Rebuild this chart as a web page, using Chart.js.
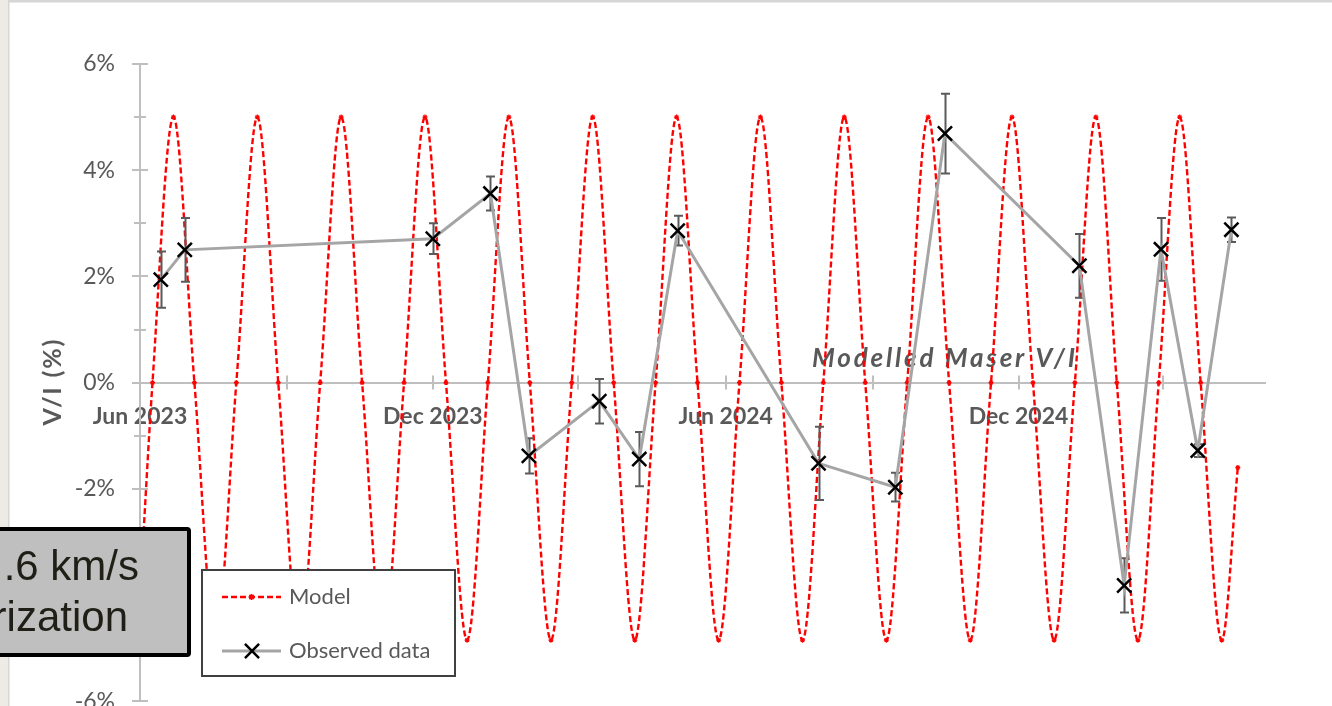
<!DOCTYPE html>
<html>
<head>
<meta charset="utf-8">
<title>Modelled Maser V/I</title>
<script src="https://cdn.jsdelivr.net/npm/chart.js@4.4.1/dist/chart.umd.min.js"></script>
<style>
    html, body { margin: 0; padding: 0; background: #ffffff; overflow: hidden; }
    #wrap { position: relative; width: 1332px; height: 740px; }
</style>
</head>
<body>
<div id="wrap"><canvas id="chart" width="1332" height="740"></canvas></div>
<script>
// x values are days since 1 Jun 2023
const xTickDays = [0, 92, 183, 274, 366, 458, 549, 639];
const xTickLabels = ['Jun 2023', '', 'Dec 2023', '', 'Jun 2024', '', 'Dec 2024', ''];

// model curve, read at its zero crossings, peaks and troughs
const modelDays = [
    0,
    7.8, 20.9, 34.0, 47.2,
    60.2, 73.3, 86.4, 99.6,
    112.6, 125.7, 138.8, 152.0,
    165.0, 178.1, 191.2, 204.4,
    217.4, 230.5, 243.6, 256.8,
    269.8, 282.9, 296.0, 309.2,
    322.2, 335.3, 348.4, 361.6,
    374.6, 387.7, 400.8, 414.0,
    427.0, 440.1, 453.2, 466.4,
    479.4, 492.5, 505.6, 518.8,
    531.8, 544.9, 558.0, 571.2,
    584.2, 597.3, 610.4, 623.6,
    636.6, 649.7, 662.8, 676.0,
    686
];
const modelValues = [
    -4.0,
    0, 5.0, 0, -4.85,
    0, 5.0, 0, -4.85,
    0, 5.0, 0, -4.85,
    0, 5.0, 0, -4.85,
    0, 5.0, 0, -4.85,
    0, 5.0, 0, -4.85,
    0, 5.0, 0, -4.85,
    0, 5.0, 0, -4.85,
    0, 5.0, 0, -4.85,
    0, 5.0, 0, -4.85,
    0, 5.0, 0, -4.85,
    0, 5.0, 0, -4.85,
    0, 5.0, 0, -4.85,
    -1.6
];

// observed V/I with errors
const obsDays = [13, 28, 183, 219, 243, 287, 312, 336, 424, 472, 503, 587, 615, 638, 661, 682];
const obsValues = [1.94, 2.50, 2.71, 3.56, -1.38, -0.35, -1.44, 2.86, -1.52, -1.97, 4.69, 2.20, -3.82, 2.51, -1.28, 2.88];
const obsErrors = [0.53, 0.60, 0.29, 0.32, 0.33, 0.42, 0.51, 0.28, 0.69, 0.27, 0.75, 0.60, 0.51, 0.59, 0.12, 0.23];

const textGray = '#595959';
const axisGray = '#bfbfbf';

Chart.defaults.font.family = 'Lato, "Open Sans", sans-serif';
Chart.defaults.color = textGray;

function fitText(ctx, text, targetWidth) {
    ctx.letterSpacing = '0px';
    const w = ctx.measureText(text).width;
    const sp = Math.max(0, (targetWidth - w) / (text.length - 1));
    ctx.letterSpacing = sp + 'px';
}

const decorPlugin = {
    id: 'decor',
    beforeDraw(chart) {
        const ctx = chart.ctx;
        ctx.save();
        ctx.fillStyle = '#ffffff';
        ctx.fillRect(0, 0, chart.width, chart.height);
        // frame of the slide
        ctx.fillStyle = '#eeebe5';
        ctx.fillRect(0, 0, 8, chart.height);
        ctx.fillStyle = '#d6d6d6';
        ctx.fillRect(8, 0, 1.5, chart.height);
        ctx.fillRect(8, 0, chart.width, 2.5);
        ctx.restore();
    },
    beforeDatasetsDraw(chart) {
        const ctx = chart.ctx;
        const xs = chart.scales.x, ys = chart.scales.y;
        const axX = ys.right, axY = ys.getPixelForValue(0);
        ctx.save();
        ctx.strokeStyle = axisGray;
        ctx.lineWidth = 2;
        ys.ticks.forEach(t => {
            const y = Math.round(ys.getPixelForValue(t.value));
            const half = t.value % 2 === 0 ? 8 : 6;
            ctx.beginPath();
            ctx.moveTo(axX - half, y);
            ctx.lineTo(axX + half, y);
            ctx.stroke();
        });
        xs.ticks.forEach(t => {
            const x = Math.round(xs.getPixelForValue(t.value));
            ctx.beginPath();
            ctx.moveTo(x, axY - 7);
            ctx.lineTo(x, axY + 7);
            ctx.stroke();
        });

        // chart title
        ctx.fillStyle = textGray;
        ctx.font = 'italic bold 26px Lato';
        ctx.textBaseline = 'alphabetic';
        ctx.textAlign = 'left';
        fitText(ctx, 'Modelled Maser V/I', 263);
        ctx.fillText('Modelled Maser V/I', 812, 367);

        // y axis title
        ctx.translate(61, ys.getPixelForValue(0));
        ctx.rotate(-Math.PI / 2);
        ctx.font = 'bold 25px Lato';
        ctx.textAlign = 'left';
        fitText(ctx, 'V/I (%)', 86);
        ctx.fillText('V/I (%)', -43, 0);
        ctx.restore();
    },
    afterDatasetDraw(chart, args) {
        if (chart.data.datasets[args.index].label !== 'Model') return;
        const ctx = chart.ctx;
        const xs = chart.scales.x, ys = chart.scales.y;
        ctx.save();
        ctx.strokeStyle = '#5a5a5a';
        ctx.lineWidth = 2;
        obsDays.forEach((d, i) => {
            const x = Math.round(xs.getPixelForValue(d)) + 0.5;
            const yt = ys.getPixelForValue(obsValues[i] + obsErrors[i]);
            const yb = ys.getPixelForValue(obsValues[i] - obsErrors[i]);
            ctx.beginPath();
            ctx.moveTo(x, yt); ctx.lineTo(x, yb);
            ctx.moveTo(x - 4.5, yt); ctx.lineTo(x + 4.5, yt);
            ctx.moveTo(x - 4.5, yb); ctx.lineTo(x + 4.5, yb);
            ctx.stroke();
        });
        ctx.restore();
    },
    afterDraw(chart) {
        const ctx = chart.ctx;
        const model = chart.data.datasets[1];
        const obs = chart.data.datasets[0];
        ctx.save();
        // legend
        ctx.fillStyle = '#ffffff';
        ctx.fillRect(202, 570, 253, 106);
        ctx.strokeStyle = '#404040';
        ctx.lineWidth = 2;
        ctx.strokeRect(202, 570, 253, 106);

        ctx.strokeStyle = model.borderColor;
        ctx.lineWidth = model.borderWidth;
        ctx.setLineDash(model.borderDash);
        ctx.beginPath();
        ctx.moveTo(222, 597); ctx.lineTo(281, 597);
        ctx.stroke();
        ctx.setLineDash([]);
        ctx.fillStyle = model.borderColor;
        ctx.lineWidth = 1.5;
        Chart.helpers.drawPoint(ctx, { pointStyle: 'star', radius: 3, borderWidth: 1.5 }, 251.5, 597);

        ctx.strokeStyle = obs.borderColor;
        ctx.lineWidth = obs.borderWidth;
        ctx.beginPath();
        ctx.moveTo(222, 651); ctx.lineTo(281, 651);
        ctx.stroke();
        ctx.strokeStyle = '#000000';
        ctx.lineWidth = obs.pointBorderWidth;
        Chart.helpers.drawPoint(ctx, { pointStyle: 'crossRot', radius: 10, borderWidth: obs.pointBorderWidth }, 252, 651);

        ctx.fillStyle = textGray;
        ctx.font = '22px Lato';
        ctx.textAlign = 'left';
        ctx.textBaseline = 'alphabetic';
        ctx.fillText(model.label, 289, 604);
        ctx.fillText(obs.label, 289, 658);

        // grey annotation box, cut by the slide edge
        ctx.fillStyle = '#bfbfbf';
        ctx.strokeStyle = '#000000';
        ctx.lineWidth = 4;
        ctx.beginPath();
        ctx.roundRect(-20, 529, 209, 126, 2);
        ctx.fill();
        ctx.stroke();
        ctx.fillStyle = '#1f1f17';
        ctx.font = '42px "Liberation Sans", Arial, sans-serif';
        ctx.textAlign = 'right';
        ctx.fillText('.6 km/s', 139, 580);
        ctx.fillText('rization', 128, 631);
        ctx.restore();
    }
};

const ctx = document.getElementById('chart').getContext('2d');
const chart = new Chart(ctx, {
    type: 'line',
    data: {
        datasets: [
            {
                label: 'Observed data',
                data: obsDays.map((d, i) => ({ x: d, y: obsValues[i] })),
                borderColor: '#a5a5a5',
                backgroundColor: '#a5a5a5',
                borderWidth: 3,
                tension: 0,
                pointStyle: 'crossRot',
                pointRadius: 10,
                pointBorderColor: '#000000',
                pointBorderWidth: 2.5,
                order: 0
            },
            {
                label: 'Model',
                data: modelDays.map((d, i) => ({ x: d, y: modelValues[i] })),
                borderColor: '#ff0000',
                backgroundColor: '#ff0000',
                borderWidth: 2.4,
                borderDash: [6, 3],
                cubicInterpolationMode: 'monotone',
                pointStyle: 'star',
                pointRadius: 2.5,
                pointBorderWidth: 1.2,
                pointBorderColor: '#ff0000',
                order: 1
            }
        ]
    },
    options: {
        responsive: false,
        animation: false,
        events: [],
        layout: { padding: { left: 0, top: 64, right: 67, bottom: 20 } },
        plugins: {
            legend: { display: false },
            tooltip: { enabled: false }
        },
        scales: {
            x: {
                type: 'linear',
                min: 0,
                max: 703,
                position: { y: 0 },
                afterBuildTicks: s => { s.ticks = xTickDays.map(v => ({ value: v })); },
                afterFit: s => { s.height = 0; },
                grid: { display: true, drawOnChartArea: false, drawTicks: false },
                border: { color: axisGray, width: 2 },
                ticks: {
                    autoSkip: false,
                    maxRotation: 0,
                    padding: 20,
                    color: textGray,
                    font: { size: 23, weight: 'bold' },
                    callback: (v, i) => xTickLabels[i]
                }
            },
            y: {
                min: -6,
                max: 6,
                afterFit: s => { s.width = 140; },
                grid: { display: true, drawOnChartArea: false, drawTicks: false },
                border: { color: axisGray, width: 2 },
                ticks: {
                    stepSize: 1,
                    padding: 25,
                    color: textGray,
                    font: { size: 23 },
                    callback: v => (v % 2 === 0 ? v + '%' : '')
                }
            }
        }
    },
    plugins: [decorPlugin]
});
</script>
</body>
</html>
